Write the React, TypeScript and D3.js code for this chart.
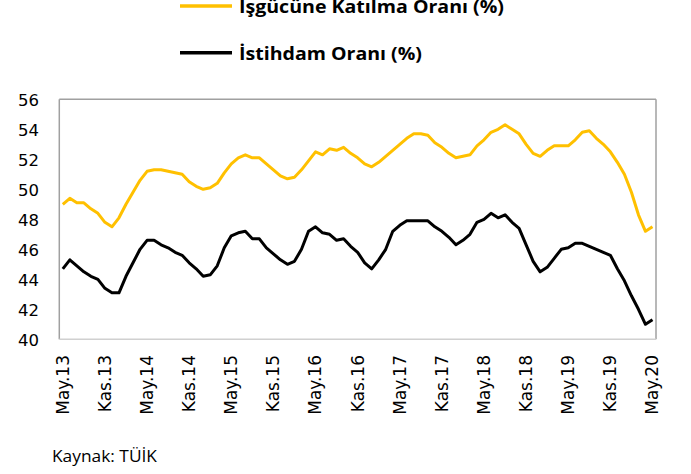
import React from "react";
import * as d3 from "d3";

const monthNames = ["Oca", "Şub", "Mar", "Nis", "May", "Haz", "Tem", "Ağu", "Eyl", "Eki", "Kas", "Ara"];
// May 2013 .. May 2020 (85 months)
const categories: string[] = [];
for (let k = 0; k < 85; k++) {
  const m = (4 + k) % 12;
  const y = 13 + Math.floor((4 + k) / 12);
  categories.push(`${monthNames[m]}.${y}`);
}

const tickLabels = ["May.13", "Kas.13", "May.14", "Kas.14", "May.15", "Kas.15", "May.16", "Kas.16", "May.17", "Kas.17", "May.18", "Kas.18", "May.19", "Kas.19", "May.20"];
const yTicks = [40, 42, 44, 46, 48, 50, 52, 54, 56];

const participation = [
  49.0, 49.4, 49.1, 49.1, 48.7, 48.4, 47.8, 47.5, 48.1, 49.0,
  49.8, 50.6, 51.2, 51.3, 51.3, 51.2, 51.1, 51.0, 50.5, 50.2,
  50.0, 50.1, 50.4, 51.1, 51.7, 52.1, 52.3, 52.1, 52.1, 51.7,
  51.3, 50.9, 50.7, 50.8, 51.3, 51.9, 52.5, 52.3, 52.7, 52.6,
  52.8, 52.4, 52.1, 51.7, 51.5, 51.8, 52.2, 52.6, 53.0, 53.4,
  53.7, 53.7, 53.6, 53.1, 52.8, 52.4, 52.1, 52.2, 52.3, 52.9,
  53.3, 53.8, 54.0, 54.3, 54.0, 53.7, 53.0, 52.4, 52.2, 52.6,
  52.9, 52.9, 52.9, 53.3, 53.8, 53.9, 53.4, 53.0, 52.5, 51.8,
  51.0, 49.8, 48.3, 47.2, 47.5,
];

const employment = [
  44.7, 45.3, 44.9, 44.5, 44.2, 44.0, 43.4, 43.1, 43.1, 44.2,
  45.1, 46.0, 46.6, 46.6, 46.3, 46.1, 45.8, 45.6, 45.1, 44.7,
  44.2, 44.3, 44.9, 46.1, 46.9, 47.1, 47.2, 46.7, 46.7, 46.1,
  45.7, 45.3, 45.0, 45.2, 46.0, 47.2, 47.5, 47.1, 47.0, 46.6,
  46.7, 46.2, 45.8, 45.1, 44.7, 45.3, 46.0, 47.2, 47.6, 47.9,
  47.9, 47.9, 47.9, 47.5, 47.2, 46.8, 46.3, 46.6, 47.0, 47.8,
  48.0, 48.4, 48.1, 48.3, 47.8, 47.4, 46.3, 45.2, 44.5, 44.8,
  45.4, 46.0, 46.1, 46.4, 46.4, 46.2, 46.0, 45.8, 45.6, 44.7,
  43.9, 42.9, 42.0, 41.0, 41.3,
];

const seriesNames = ["İşgücüne Katılma Oranı (%)", "İstihdam Oranı (%)"];
const seriesColors = ["#FFC000", "#000000"];

export default function App() {
  const W = 691, H = 474;
  const left = 59.3, right = 656, top = 99.3, bottom = 339.3;

  const x = d3.scalePoint<string>().domain(categories).range([left, right]).padding(0.5);
  const y = d3.scaleLinear().domain([40, 56]).range([bottom, top]);

  const line = d3
    .line<number>()
    .x((_, i) => x(categories[i]) as number)
    .y((d) => y(d));

  const series = [participation, employment];
  const legendY = [6, 52.7];

  return (
    <svg width={W} height={H} style={{ position: "absolute", left: 0, top: 0, background: "#fff" }}>
      <rect x={0} y={0} width={W} height={H} fill="#fff" />
      {/* plot border */}
      <line x1={left} x2={right} y1={top} y2={top} stroke="#a0a0a0" strokeWidth={1.5} />
      <line x1={left} x2={left} y1={top} y2={bottom} stroke="#a0a0a0" strokeWidth={1.5} />
      <line x1={right} x2={right} y1={top} y2={bottom} stroke="#a0a0a0" strokeWidth={1.5} />
      <line x1={left} x2={right} y1={bottom} y2={bottom} stroke="#d0d0d0" strokeWidth={1.5} />

      {/* y axis labels */}
      {yTicks.map((t) => (
        <text key={t} x={39} y={y(t)} dy="0.4em" textAnchor="end" fontFamily="DejaVu Sans" fontSize={16.5} fill="#000">
          {t}
        </text>
      ))}

      {/* x axis labels */}
      {tickLabels.map((lab) => (
        <text
          key={lab}
          transform={`translate(${x(lab)},355) rotate(-90)`}
          dy="0.35em"
          textAnchor="end"
          fontFamily="DejaVu Sans"
          fontSize={17}
          fill="#000"
        >
          {lab}
        </text>
      ))}

      {/* lines */}
      {series.map((s, k) => (
        <path key={k} d={line(s) || ""} fill="none" stroke={seriesColors[k]} strokeWidth={3} strokeLinejoin="round" />
      ))}

      {/* legend */}
      {seriesNames.map((n, k) => (
        <g key={n}>
          <line x1={180} x2={232} y1={legendY[k]} y2={legendY[k]} stroke={seriesColors[k]} strokeWidth={3.5} />
          <text
            x={239}
            y={legendY[k] + 7.3}
            fontFamily="Open Sans"
            fontWeight="bold"
            fontSize={18}
            fill="#000"
            textLength={k === 0 ? 265 : 183}
            lengthAdjust="spacingAndGlyphs"
          >
            {n}
          </text>
        </g>
      ))}

      <text x={52} y={462} fontFamily="Open Sans" fontSize={17} fill="#000" textLength={105} lengthAdjust="spacingAndGlyphs">
        Kaynak: TÜİK
      </text>
    </svg>
  );
}
